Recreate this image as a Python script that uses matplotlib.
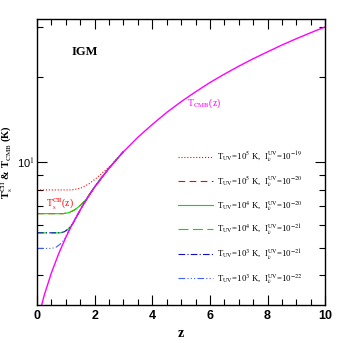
"""
Spin temperature of CII in the IGM vs CMB temperature
"""
import matplotlib.pyplot as plt
from matplotlib.ticker import FixedLocator, NullFormatter

plt.rcParams["font.family"] = ["Liberation Serif", "DejaVu Serif"]
plt.rcParams["mathtext.fontset"] = "stix"

# CMB temperature
z_cmb = [0.0, 0.25, 0.5, 0.75, 1.0, 1.25, 1.5, 1.75, 2.0, 2.5, 3.0, 3.5, 4.0,
         4.5, 5.0, 5.5, 6.0, 6.5, 7.0, 7.5, 8.0, 8.5, 9.0, 9.5, 10.0]
t_cmb = [2.725, 3.41, 4.09, 4.77, 5.45, 6.13, 6.81, 7.49, 8.18, 9.54, 10.9,
         12.26, 13.6, 14.99, 16.35, 17.71, 19.1, 20.44, 21.8, 23.16, 24.5,
         25.89, 27.25, 28.61, 29.98]

# spin temperature curves (z, T) for each UV background
z_a = [0.0, 1.2, 1.5, 1.8, 2.0, 2.2, 2.4, 2.6, 2.8, 3.0]
t_a = [8.0, 8.0, 8.1, 8.4, 8.7, 9.05, 9.45, 9.85, 10.4, 10.95]

z_b = [0.0, 0.9, 1.1, 1.3, 1.5, 1.7, 1.9, 2.2, 2.6, 3.0]
t_b = [6.6, 6.6, 6.65, 6.8, 7.05, 7.4, 7.95, 8.75, 9.82, 10.92]

z_c = [0.0, 0.8, 0.95, 1.1, 1.25, 1.4, 1.6, 2.0, 2.5, 3.0]
t_c = [5.65, 5.65, 5.7, 5.85, 6.1, 6.5, 7.1, 8.2, 9.55, 10.91]

z_d = [0.0, 0.5, 0.65, 0.8, 0.95, 1.1, 1.3, 1.6, 2.0, 2.5, 3.0]
t_d = [4.98, 4.98, 5.02, 5.15, 5.35, 5.75, 6.28, 7.1, 8.19, 9.55, 10.91]

labels = [
    r"T$_{\rm UV}$=10$^5$ K,  I$_\nu^{\rm UV}$=10$^{-19}$",
    r"T$_{\rm UV}$=10$^5$ K,  I$_\nu^{\rm UV}$=10$^{-20}$",
    r"T$_{\rm UV}$=10$^4$ K,  I$_\nu^{\rm UV}$=10$^{-20}$",
    r"T$_{\rm UV}$=10$^4$ K,  I$_\nu^{\rm UV}$=10$^{-21}$",
    r"T$_{\rm UV}$=10$^3$ K,  I$_\nu^{\rm UV}$=10$^{-21}$",
    r"T$_{\rm UV}$=10$^3$ K,  I$_\nu^{\rm UV}$=10$^{-22}$",
]

fig = plt.figure(figsize=(3.43, 3.43), dpi=100)
ax = fig.add_axes([0.108, 0.111, 0.84, 0.834])

lw = 0.8
ax.plot(z_a, t_a, color="red", ls=":", lw=lw, label=labels[0])
ax.plot(z_b, t_b, color="red", ls=(0, (6, 4)), lw=lw, label=labels[1])
ax.plot(z_b, t_b, color="#00e000", ls="-", lw=lw, label=labels[2])
ax.plot(z_c, t_c, color="#00e000", ls=(0, (9, 4)), lw=lw, label=labels[3])
ax.plot(z_c, t_c, color="#1010c0", ls=(0, (6, 2, 1, 2)), lw=lw, label=labels[4])
ax.plot(z_d, t_d, color="#4060ff", ls=(0, (6, 2, 1, 2, 1, 2, 1, 2)), lw=lw, label=labels[5])
ax.plot(z_cmb, t_cmb, color="magenta", lw=1.0)

ax.set_yscale("log")
ax.set_xlim(0, 10)
ax.set_ylim(3.15, 32)

ax.yaxis.set_major_locator(FixedLocator([10]))
ax.set_yticklabels([r"10$^1$"], fontsize=8, family="Liberation Sans")
ax.yaxis.set_minor_locator(FixedLocator([4, 5, 6, 7, 8, 9, 20, 30]))
ax.yaxis.set_minor_formatter(NullFormatter())

ax.set_xticks([0, 2, 4, 6, 8, 10])
ax.set_xticklabels(["0", "2", "4", "6", "8", "10"], fontsize=9,
                   family="Liberation Sans", fontweight="bold")
ax.set_xticks([i * 0.5 for i in range(21)], minor=True)

ax.tick_params(which="both", direction="in", top=True, right=True, width=0.8)
ax.tick_params(which="major", length=7)
ax.tick_params(which="minor", length=4)
ax.tick_params(axis="y", which="major", pad=2)
for s in ax.spines.values():
    s.set_linewidth(1.0)

ax.set_xlabel("z", fontsize=10, fontweight="bold", labelpad=4)
ax.set_ylabel(r"T$_{\rm s}^{\rm CII}$ & T$_{\rm CMB}$ (K)", fontsize=7.5,
              fontweight="bold")
ax.yaxis.set_label_coords(-0.075, 0.5)

ax.text(1.67, 24.5, "IGM", fontsize=9, fontweight="bold", ha="center", va="center")
ax.text(0.8, 7.15, r"T$_{\rm s}^{\rm CII}$(z)", fontsize=7, color="red",
        ha="center", va="center")
ax.text(5.8, 16.1, r"T$_{\rm CMB}$(z)", fontsize=7, color="magenta",
        ha="center", va="center")

ax.legend(loc="lower right", bbox_to_anchor=(0.95, 0.04), frameon=False,
          fontsize=6.3, handlelength=4.0, handletextpad=0.5, labelspacing=1.15)

fig.savefig("out.png", dpi=100)
